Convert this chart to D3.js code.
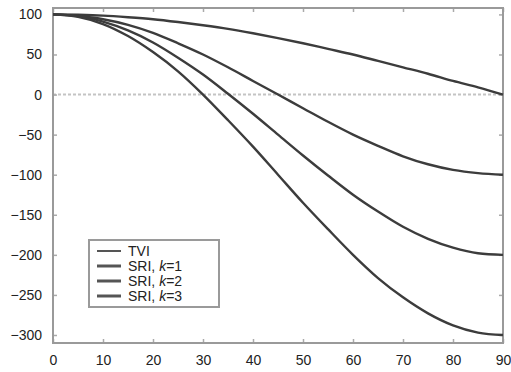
<!DOCTYPE html>
<html>
<head>
<meta charset="utf-8">
<script src="https://cdn.jsdelivr.net/npm/d3@7"></script>
<style>
  body { margin: 0; background: #fff; }
  svg { display: block; font-family: "Liberation Sans", Arial, sans-serif; }
</style>
</head>
<body>
<div id="root"></div>
<script>
const angles = [0, 5, 10, 15, 20, 25, 30, 35, 40, 45, 50, 55, 60, 65, 70, 75, 80, 85, 90];
const tvi  = [100, 99.5, 98.5, 96.5, 94, 90.5, 86.5, 82, 76.5, 70.5, 64, 57, 50, 42, 34, 26, 17, 9, 0];
const sri1 = [100, 98, 94, 87, 77, 64, 50, 34, 17, 0, -17, -34, -50, -64, -77, -87, -94, -98, -100];
const sri2 = [100, 98, 91, 80, 65, 46, 25, 1, -24, -50, -76, -101, -125, -146, -165, -180, -191, -198, -200];
const sri3 = [100, 97, 88, 73, 53, 29, 0, -32, -65, -100, -135, -168, -200, -229, -253, -273, -288, -297, -300];
const seriesNames = ["TVI", "SRI, k=1", "SRI, k=2", "SRI, k=3"];
const xTicks = [0, 10, 20, 30, 40, 50, 60, 70, 80, 90];
const yTicks = [100, 50, 0, -50, -100, -150, -200, -250, -300];

const width = 511;
const height = 372;
const margin = { left: 53, right: 8, top: 8, bottom: 29 };

const svg = d3.select("#root")
  .append("svg")
    .attr("width", width)
    .attr("height", height);

const x = d3.scaleLinear()
  .domain([0, 90])
  .range([margin.left, width - margin.right]);

const y = d3.scaleLinear()
  .domain([-310, 108])
  .range([height - margin.bottom, margin.top]);

const frameColor = "#9a9a9a";
const tickColor = "#aaa";

// zero reference line
svg.append("line")
  .attr("x1", x(0)).attr("x2", x(90))
  .attr("y1", y(0)).attr("y2", y(0))
  .attr("stroke", "#c4c4c4")
  .attr("stroke-width", 2)
  .attr("stroke-dasharray", "3 2");

// axes (ticks inside, mirrored)
const styleAxis = g => {
  g.select(".domain").remove();
  g.selectAll(".tick line").attr("stroke", tickColor).attr("stroke-width", 1.5);
  g.selectAll(".tick text").attr("fill", "#222").style("font-size", "14px");
};

svg.append("g")
  .attr("transform", `translate(0, ${y(-310)})`)
  .call(d3.axisBottom(x).tickValues(xTicks).tickSize(-4).tickPadding(12))
  .call(styleAxis);

svg.append("g")
  .attr("transform", `translate(0, ${y(108)})`)
  .call(d3.axisTop(x).tickValues(xTicks).tickSize(-4).tickFormat(""))
  .call(styleAxis);

svg.append("g")
  .attr("transform", `translate(${x(0)}, 0)`)
  .call(d3.axisLeft(y).tickValues(yTicks).tickSize(-4).tickPadding(11))
  .call(styleAxis);

svg.append("g")
  .attr("transform", `translate(${x(90)}, 0)`)
  .call(d3.axisRight(y).tickValues(yTicks).tickSize(-4).tickFormat(""))
  .call(styleAxis);

// frame
svg.append("rect")
  .attr("x", x(0)).attr("y", y(108))
  .attr("width", x(90) - x(0))
  .attr("height", y(-310) - y(108))
  .attr("fill", "none")
  .attr("stroke", frameColor)
  .attr("stroke-width", 2);

// curves
const series = [tvi, sri1, sri2, sri3];
const lineGen = d3.line()
  .x((d, i) => x(angles[i]))
  .y(d => y(d))
  .curve(d3.curveMonotoneX);

svg.selectAll("path.curve")
  .data(series)
  .enter()
  .append("path")
    .attr("class", "curve")
    .attr("d", lineGen)
    .attr("fill", "none")
    .attr("stroke", "#3c3c3c")
    .attr("stroke-width", 2.4);

// legend
const legend = svg.append("g");
legend.append("rect")
  .attr("x", 89).attr("y", 240)
  .attr("width", 130).attr("height", 67)
  .attr("fill", "#fff")
  .attr("stroke", frameColor)
  .attr("stroke-width", 2);

const legendY = [251, 266, 281, 296];
const legendWidth = [2, 3, 3, 3];
seriesNames.forEach((name, i) => {
  legend.append("line")
    .attr("x1", 97).attr("x2", 121)
    .attr("y1", legendY[i]).attr("y2", legendY[i])
    .attr("stroke", "#555")
    .attr("stroke-width", legendWidth[i]);
  const t = legend.append("text")
    .attr("x", 128).attr("y", legendY[i])
    .attr("dy", "0.35em")
    .attr("fill", "#222")
    .style("font-size", "14px");
  const m = name.match(/^(SRI, )k(=\d)$/);
  if (m) {
    t.append("tspan").text(m[1]);
    t.append("tspan").style("font-style", "italic").text("k");
    t.append("tspan").text(m[2]);
  } else {
    t.text(name);
  }
});
</script>
</body>
</html>
